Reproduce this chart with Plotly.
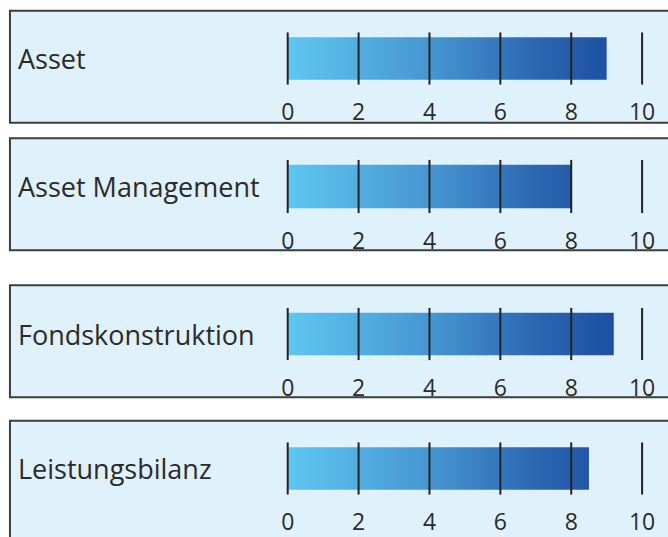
import plotly.graph_objects as go

# ---- data ----
categories = ["Asset", "Asset Management", "Fondskonstruktion", "Leistungsbilanz"]
scores = [9.0, 8.0, 9.2, 8.5]
tick_values = [0, 2, 4, 6, 8, 10]
tick_labels = ["0", "2", "4", "6", "8", "10"]

# ---- style / layout (pixels in the final page) ----
W, H = 668, 537
# (box_top, box_bottom, tick_top, tick_bottom) per panel, page pixels
panels = [(11, 126, 33, 87), (142, 257, 164, 219), (293, 408, 316, 370), (432, 560, 454, 508)]
bar_half = 0.81          # bar half-height relative to tick-line half-height
x0_px, x10_px = 289, 645
pad_px = 10
ppu = (x10_px - x0_px) / 10.0
xrange = [-pad_px / ppu, 10 + pad_px / ppu]
xdom = [(x0_px - pad_px) / W, (x10_px + pad_px) / W]

FONT = "Open Sans"
TXT = "#2b2b2b"
BOX_BG = "#dff1fb"
BOX_LINE = "#3d3d3d"
scale = [[0, "#5ec6f1"], [0.4, "#4696d1"], [0.7, "#2c67b2"], [1, "#17469a"]]

def py(p):
    return 1 - p / H

def px(p):
    return p / W

fig = go.Figure()
shapes, annotations = [], []
layout_axes = {}

for i, (cat, val, (bt, bb, tt, tb)) in enumerate(zip(categories, scores, panels)):
    n = "" if i == 0 else str(i + 1)
    xa, ya = "x" + n, "y" + n

    # panel box
    shapes.append(dict(type="rect", xref="paper", yref="paper",
                       x0=px(10), x1=1.02, y0=py(bb), y1=py(bt),
                       fillcolor=BOX_BG, line=dict(color=BOX_LINE, width=2), layer="below"))

    # gradient bar
    fig.add_trace(go.Scatter(
        x=[0, val, val, 0, 0], y=[-bar_half, -bar_half, bar_half, bar_half, -bar_half],
        mode="lines", line=dict(width=0), fill="toself",
        fillgradient=dict(type="horizontal", colorscale=scale, start=0, stop=10),
        xaxis=xa, yaxis=ya, hoverinfo="skip", showlegend=False))

    # tick lines
    lx, ly = [], []
    for t in tick_values:
        lx += [t, t, None]
        ly += [-1, 1, None]
    fig.add_trace(go.Scatter(x=lx, y=ly, mode="lines", line=dict(color="#222222", width=2),
                             xaxis=xa, yaxis=ya, hoverinfo="skip", showlegend=False,
                             cliponaxis=False))

    layout_axes["xaxis" + n] = dict(domain=xdom, range=xrange, anchor=ya,
                                    tickvals=tick_values, ticktext=tick_labels,
                                    ticks="outside", ticklen=7, tickcolor="rgba(0,0,0,0)",
                                    showgrid=False, zeroline=False, showline=False,
                                    tickfont=dict(family=FONT, size=23, color=TXT),
                                    fixedrange=True)
    layout_axes["yaxis" + n] = dict(domain=[py(tb), py(tt)], range=[-1, 1], anchor=xa,
                                    visible=False, fixedrange=True)

    annotations.append(dict(text=cat, xref="paper", yref="paper", x=px(16), y=py((tt + tb) / 2),
                            xanchor="left", yanchor="middle", showarrow=False,
                            font=dict(family=FONT, size=27, color=TXT)))

fig.update_layout(width=W, height=H, margin=dict(l=0, r=0, t=0, b=0),
                  paper_bgcolor="white", plot_bgcolor="rgba(0,0,0,0)",
                  shapes=shapes, annotations=annotations, showlegend=False, **layout_axes)

fig.write_html("out.html", config={"displayModeBar": False},
               post_script="document.body.style.margin='0px';")
